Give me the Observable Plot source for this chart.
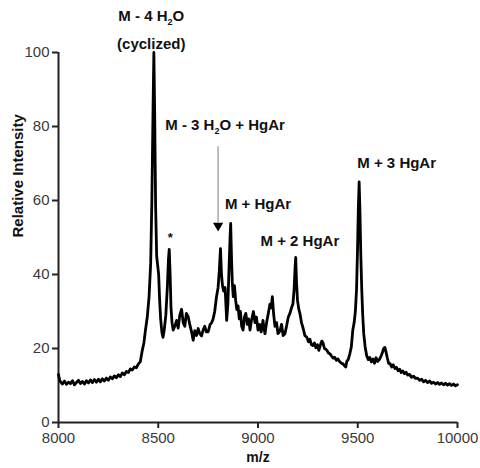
<!DOCTYPE html>
<html>
<head>
<meta charset="utf-8">
<script src="https://cdn.jsdelivr.net/npm/d3@7"></script>
<script src="https://cdn.jsdelivr.net/npm/@observablehq/plot@0.6"></script>
<style>
  html, body { margin: 0; padding: 0; background: white; }
</style>
</head>
<body>
<div id="chart"></div>
<script>
const mz = [
  8000, 8005, 8010, 8020, 8030, 8040, 8050, 8060, 8070, 8080, 8090, 8100, 8110, 8120, 8130, 8140, 8150, 8160, 8170, 8180,
  8190, 8200, 8210, 8220, 8230, 8240, 8250, 8260, 8270, 8280, 8290, 8300, 8310, 8320, 8330, 8340, 8350, 8360, 8370, 8380,
  8390, 8400, 8410, 8420, 8428, 8436, 8445, 8454, 8462, 8468, 8474, 8478, 8482, 8487, 8492, 8497, 8502, 8507, 8512, 8518,
  8524, 8530, 8538, 8546, 8551, 8555, 8559, 8564, 8569, 8575, 8583, 8592, 8600, 8608, 8617, 8625, 8633, 8641, 8650, 8658,
  8667, 8675, 8683, 8692, 8700, 8708, 8717, 8725, 8733, 8741, 8750, 8760, 8768, 8775, 8783, 8792, 8800, 8806, 8812, 8817,
  8822, 8828, 8835, 8843, 8849, 8855, 8860, 8863, 8867, 8871, 8876, 8882, 8888, 8894, 8900, 8906, 8912, 8918, 8925, 8932,
  8939, 8946, 8953, 8960, 8967, 8977, 8985, 8992, 9000, 9008, 9016, 9025, 9030, 9035, 9043, 9050, 9060, 9066, 9072, 9078,
  9085, 9093, 9100, 9110, 9118, 9126, 9135, 9143, 9152, 9160, 9168, 9175, 9181, 9186, 9189, 9193, 9198, 9205, 9210, 9218,
  9226, 9235, 9245, 9253, 9260, 9268, 9275, 9283, 9290, 9298, 9305, 9313, 9320, 9326, 9333, 9340, 9345, 9353, 9360, 9368,
  9377, 9385, 9393, 9400, 9410, 9418, 9425, 9433, 9440, 9445, 9452, 9460, 9468, 9475, 9482, 9488, 9494, 9499, 9503, 9507,
  9511, 9515, 9520, 9525, 9530, 9537, 9545, 9553, 9560, 9568, 9576, 9584, 9592, 9600, 9608, 9616, 9624, 9630, 9636, 9642,
  9648, 9655, 9662, 9670, 9678, 9686, 9694, 9702, 9710, 9718, 9726, 9734, 9742, 9750, 9760, 9770, 9780, 9790, 9800, 9810,
  9820, 9830, 9840, 9850, 9860, 9870, 9880, 9890, 9900, 9910, 9920, 9930, 9940, 9950, 9960, 9970, 9980, 9990, 10000
];
const intensity = [
  13.0, 11.6, 11.0, 10.4, 11.2, 10.3, 10.9, 10.5, 11.3, 10.2, 10.8, 11.4, 10.5, 11.1, 10.4, 11.3, 10.7, 11.5, 10.8, 11.6,
  10.9, 11.7, 11.0, 11.8, 11.2, 12.0, 11.4, 12.3, 11.8, 12.6, 12.1, 12.9, 12.4, 13.4, 12.9, 13.8, 13.5, 14.5, 14.2, 15.0,
  14.8, 15.8, 16.4, 19.5, 21.5, 25.0, 28.5, 34.0, 43.0, 60.0, 85.0, 100.0, 84.0, 58.0, 45.0, 42.5, 40.0, 33.0, 28.0, 24.5,
  23.0, 25.0, 29.0, 37.0, 44.0, 46.8, 41.0, 31.0, 27.0, 25.0, 26.0, 27.6, 25.5, 29.0, 30.6, 27.0, 26.0, 29.5, 28.6, 26.5,
  24.5, 22.2, 24.8, 23.5, 25.4, 24.0, 23.4, 25.0, 26.0, 24.5, 24.5, 26.5, 27.0, 28.0, 30.0, 34.0, 36.5, 41.0, 47.0, 40.0,
  37.0, 35.5, 36.5, 27.6, 32.0, 42.0, 50.0, 53.8, 45.0, 38.0, 34.0, 37.0, 33.0, 30.5, 31.5, 28.0, 30.0, 26.0, 25.0, 28.5,
  29.5, 26.5, 28.0, 25.0, 27.5, 30.0, 27.0, 28.5, 25.0, 26.5, 24.5, 27.6, 25.5, 24.0, 27.0, 29.0, 32.0, 31.0, 34.0, 29.5,
  26.0, 27.0, 24.0, 24.7, 26.5, 23.5, 24.0, 26.0, 28.5, 29.5, 31.0, 32.0, 36.0, 42.0, 44.6, 38.0, 33.0, 30.5, 29.5, 27.0,
  25.5, 23.5, 23.0, 21.8, 22.5, 21.0, 20.8, 21.5, 20.2, 21.0, 19.5, 21.0, 22.0, 21.5, 20.0, 19.8, 19.5, 18.8, 18.6, 18.0,
  17.4, 17.6, 16.8, 17.2, 16.4, 16.0, 15.9, 15.4, 15.0, 16.5, 17.0, 18.5, 20.5, 24.9, 27.0, 30.0, 36.0, 47.0, 58.0, 65.0,
  57.0, 46.0, 36.0, 29.0, 24.0, 20.5, 18.0, 17.0, 17.6, 16.4, 17.2, 16.0, 17.5, 16.5, 17.0, 17.8, 19.0, 20.0, 20.3, 19.0,
  17.5, 16.0, 15.9, 15.0, 15.6, 14.6, 14.9, 14.0, 14.4, 13.5, 13.9, 13.2, 13.6, 12.8, 13.0, 12.2, 12.5, 11.9, 12.0, 11.4,
  11.7, 11.0, 11.4, 10.8, 11.2, 10.6, 10.9, 10.4, 10.8, 10.3, 10.7, 10.2, 10.6, 10.1, 10.5, 10.0, 10.4, 9.9, 10.2
];
const xTicks = [8000, 8500, 9000, 9500, 10000];
const yTicks = [0, 20, 40, 60, 80, 100];
const xLabel = "m/z";
const yLabel = "Relative Intensity";
const peakLabels = ["M - 4 H2O", "(cyclized)", "M - 3 H2O + HgAr", "M + HgAr", "M + 2 HgAr", "M + 3 HgAr", "*"];

const spectrum = mz.map((m, i) => ({mz: m, intensity: intensity[i]}));

const font = "'Liberation Sans', Arial, Helvetica, sans-serif";
const lab = (label, x, y, extra = {}) =>
  Plot.text([label], {x: () => x, y: () => y, text: d => d, fontSize: 15, fontWeight: "bold",
    fill: "#111", textAnchor: "middle", lineAnchor: "middle", ...extra});

const chart = Plot.plot({
  width: 480,
  height: 468,
  marginLeft: 58,
  marginRight: 23,
  marginTop: 52,
  marginBottom: 46,
  x: {domain: [8000, 10000]},
  y: {domain: [0, 100]},
  style: {fontFamily: font, fontSize: "15px", background: "white", color: "#333"},
  marks: [
    Plot.axisX({ticks: xTicks, tickSize: 6, tickPadding: 4, tickFormat: d => String(d),
      stroke: "#222", strokeWidth: 2, fill: "#3a3a3a", label: null}),
    Plot.axisY({ticks: yTicks, tickSize: 6, tickPadding: 3, tickFormat: d => String(d),
      stroke: "#222", strokeWidth: 2, fill: "#3a3a3a", label: null}),
    Plot.ruleY([0], {stroke: "#222", strokeWidth: 2}),
    Plot.ruleX([8000], {stroke: "#222", strokeWidth: 2}),
    Plot.line(spectrum, {x: "mz", y: "intensity", stroke: "#000", strokeWidth: 2.8,
      strokeLinejoin: "round", strokeLinecap: "round"}),
    Plot.ruleX([8800], {y1: 54, y2: 74.5, stroke: "#aaa", strokeWidth: 1.5}),
    Plot.dot([8800], {x: d => d, y: () => 53.2, symbol: "triangle", r: 3.8, rotate: 180,
      fill: "#000", stroke: null}),
    lab(peakLabels[0], 8465, 109.8),
    lab(peakLabels[1], 8465, 102.2),
    lab(peakLabels[2], 8835, 80.3),
    lab(peakLabels[3], 9000, 58.9),
    lab(peakLabels[4], 9210, 48.9),
    lab(peakLabels[5], 9695, 70.0),
    lab(peakLabels[6], 8560, 49.8, {fontSize: 13}),
    Plot.text([xLabel], {frameAnchor: "bottom", dy: 35, text: d => d, fontSize: 14,
      fontWeight: "bold", fill: "#111", lineAnchor: "middle"}),
    Plot.text([yLabel], {frameAnchor: "left", dx: -40, rotate: -90, text: d => d, fontSize: 15,
      fontWeight: "bold", fill: "#111", lineAnchor: "middle"})
  ]
});

// subscript "2" in H2O labels
chart.querySelectorAll("text").forEach(t => {
  const s = t.textContent;
  const i = s.indexOf("H2O");
  if (i < 0 || t.querySelector("tspan")) return;
  t.textContent = "";
  const ns = "http://www.w3.org/2000/svg";
  const a = document.createElementNS(ns, "tspan"); a.textContent = s.slice(0, i + 1);
  const b = document.createElementNS(ns, "tspan"); b.textContent = "2";
  b.setAttribute("font-size", "9"); b.setAttribute("dy", "4");
  const c = document.createElementNS(ns, "tspan"); c.textContent = s.slice(i + 2);
  c.setAttribute("dy", "-4");
  t.append(a, b, c);
});

document.getElementById("chart").append(chart);
</script>
</body>
</html>
